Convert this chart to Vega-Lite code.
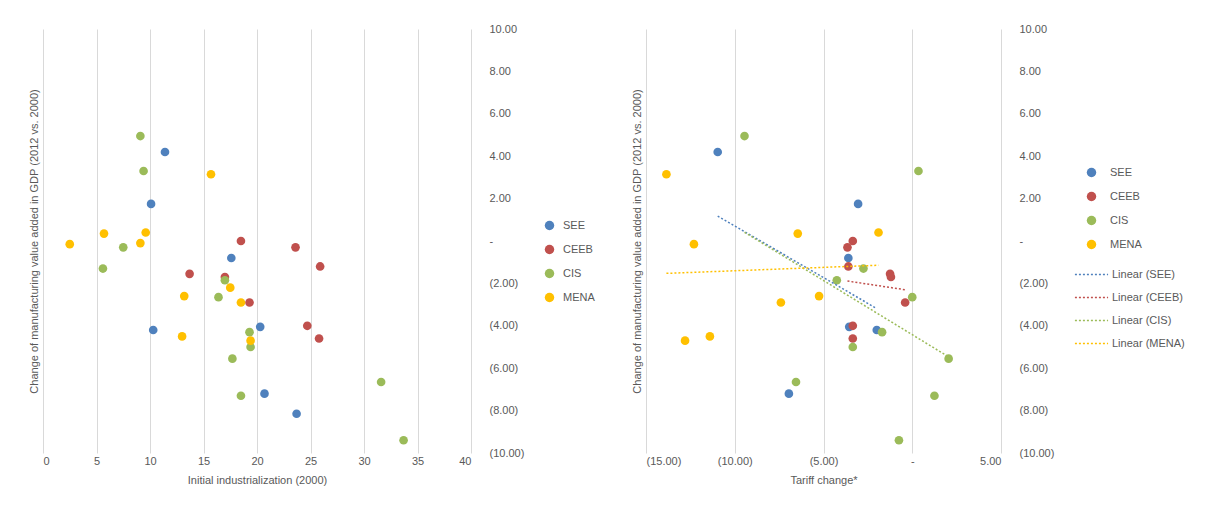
{
  "$schema": "https://vega.github.io/schema/vega-lite/v6.json",
  "padding": {"left": 28, "top": 23, "right": 5, "bottom": 5},
  "spacing": 36,
  "resolve": {"scale": {"color": "independent", "stroke": "independent"}, "legend": {"color": "independent", "stroke": "independent"}},
  "config": {
    "view": {"stroke": null},
    "font": "Liberation Sans",
    "axis": {"labelFont": "Liberation Sans", "titleFont": "Liberation Sans", "labelFontSize": 11, "titleFontSize": 11, "labelColor": "#595959", "titleColor": "#595959", "titleFontWeight": "normal", "domain": false, "ticks": false, "gridColor": "#d9d9d9"},
    "legend": {"labelFont": "Liberation Sans", "labelFontSize": 11, "labelColor": "#595959", "title": null, "rowPadding": 12, "padding": 0}
  },
  "datasets": {
    "left": [
      {"group": "SEE", "x": 11.4, "y": 4.2}, {"group": "SEE", "x": 10.1, "y": 1.75}, {"group": "SEE", "x": 17.6, "y": -0.8},
      {"group": "SEE", "x": 10.3, "y": -4.2}, {"group": "SEE", "x": 20.3, "y": -4.05}, {"group": "SEE", "x": 20.7, "y": -7.2},
      {"group": "SEE", "x": 23.7, "y": -8.15},
      {"group": "CEEB", "x": 18.5, "y": 0}, {"group": "CEEB", "x": 23.6, "y": -0.3}, {"group": "CEEB", "x": 25.9, "y": -1.2},
      {"group": "CEEB", "x": 13.7, "y": -1.55}, {"group": "CEEB", "x": 17.0, "y": -1.7}, {"group": "CEEB", "x": 19.3, "y": -2.9},
      {"group": "CEEB", "x": 24.7, "y": -4.0}, {"group": "CEEB", "x": 25.8, "y": -4.6},
      {"group": "CIS", "x": 9.1, "y": 4.95}, {"group": "CIS", "x": 9.4, "y": 3.3}, {"group": "CIS", "x": 7.5, "y": -0.3},
      {"group": "CIS", "x": 5.6, "y": -1.3}, {"group": "CIS", "x": 16.4, "y": -2.65}, {"group": "CIS", "x": 17.0, "y": -1.85},
      {"group": "CIS", "x": 19.3, "y": -4.3}, {"group": "CIS", "x": 19.4, "y": -5.0}, {"group": "CIS", "x": 17.7, "y": -5.55},
      {"group": "CIS", "x": 18.5, "y": -7.3}, {"group": "CIS", "x": 31.6, "y": -6.65}, {"group": "CIS", "x": 33.7, "y": -9.4},
      {"group": "MENA", "x": 2.5, "y": -0.15}, {"group": "MENA", "x": 5.7, "y": 0.35}, {"group": "MENA", "x": 9.6, "y": 0.4},
      {"group": "MENA", "x": 9.1, "y": -0.1}, {"group": "MENA", "x": 15.7, "y": 3.15}, {"group": "MENA", "x": 13.2, "y": -2.6},
      {"group": "MENA", "x": 17.5, "y": -2.2}, {"group": "MENA", "x": 18.5, "y": -2.9}, {"group": "MENA", "x": 19.4, "y": -4.7},
      {"group": "MENA", "x": 13.0, "y": -4.5}
    ],
    "right": [
      {"group": "SEE", "x": -10.96, "y": 4.2}, {"group": "SEE", "x": -3.05, "y": 1.75}, {"group": "SEE", "x": -3.6, "y": -0.8},
      {"group": "SEE", "x": -3.55, "y": -4.05}, {"group": "SEE", "x": -2.0, "y": -4.2}, {"group": "SEE", "x": -6.95, "y": -7.2},
      {"group": "CEEB", "x": -3.35, "y": 0}, {"group": "CEEB", "x": -3.65, "y": -0.3}, {"group": "CEEB", "x": -3.6, "y": -1.2},
      {"group": "CEEB", "x": -1.25, "y": -1.55}, {"group": "CEEB", "x": -1.2, "y": -1.7}, {"group": "CEEB", "x": -0.4, "y": -2.9},
      {"group": "CEEB", "x": -3.35, "y": -4.0}, {"group": "CEEB", "x": -3.35, "y": -4.6},
      {"group": "CIS", "x": -9.45, "y": 4.95}, {"group": "CIS", "x": 0.35, "y": 3.3}, {"group": "CIS", "x": -2.75, "y": -1.3},
      {"group": "CIS", "x": -4.25, "y": -1.85}, {"group": "CIS", "x": 0.0, "y": -2.65}, {"group": "CIS", "x": -1.7, "y": -4.3},
      {"group": "CIS", "x": -3.35, "y": -5.0}, {"group": "CIS", "x": 2.05, "y": -5.55}, {"group": "CIS", "x": 1.25, "y": -7.3},
      {"group": "CIS", "x": -6.55, "y": -6.65}, {"group": "CIS", "x": -0.75, "y": -9.4},
      {"group": "MENA", "x": -13.85, "y": 3.15}, {"group": "MENA", "x": -12.3, "y": -0.15}, {"group": "MENA", "x": -6.45, "y": 0.35},
      {"group": "MENA", "x": -1.9, "y": 0.4}, {"group": "MENA", "x": -7.4, "y": -2.9}, {"group": "MENA", "x": -5.25, "y": -2.6},
      {"group": "MENA", "x": -12.8, "y": -4.7}, {"group": "MENA", "x": -11.4, "y": -4.5}
    ]
  },
  "hconcat": [
    {
      "width": 428,
      "height": 424,
      "data": {"name": "left"},
      "layer": [
        {
          "mark": {"type": "point", "filled": true, "size": 75, "opacity": 1},
          "encoding": {
            "x": {"field": "x", "type": "quantitative", "scale": {"domain": [0, 40], "nice": false}, "axis": {"values": [0,5,10,15,20,25,30,35,40], "title": "Initial industrialization (2000)", "titlePadding": 8}},
            "y": {"field": "y", "type": "quantitative", "scale": {"domain": [-10, 10], "nice": false}, "axis": {"orient": "left", "labels": false, "grid": false, "title": "Change of manufacturing value added in GDP (2012 vs. 2000)", "titlePadding": 4}},
            "color": {"field": "group", "type": "nominal", "scale": {"domain": ["SEE", "CEEB", "CIS", "MENA"], "range": ["#4F81BD", "#C0504D", "#9BBB59", "#FFC000"]}, "legend": {"symbolType": "circle", "symbolSize": 90, "labelOffset": 8, "orient": "none", "legendX": 501, "legendY": 191}}
          }
        },
        {
          "mark": {"type": "point", "size": 0, "opacity": 0},
          "encoding": {
            "x": {"field": "x", "type": "quantitative"},
            "y": {"field": "y", "type": "quantitative", "axis": {"orient": "right", "grid": false, "title": null, "labelPadding": 18, "values": [-10,-8,-6,-4,-2,0,2,4,6,8,10], "labelExpr": "datum.value == 0 ? '-' : datum.value < 0 ? '(' + format(-datum.value, '.2f') + ')' : format(datum.value, '.2f')"}}
          }
        }
      ],
      "resolve": {"axis": {"y": "independent"}}
    },
    {
      "width": 355,
      "height": 424,
      "data": {"name": "right"},
      "layer": [
        {
          "mark": {"type": "point", "filled": true, "size": 75, "opacity": 1},
          "encoding": {
            "x": {"field": "x", "type": "quantitative", "scale": {"domain": [-15, 5], "nice": false}, "axis": {"values": [-15,-10,-5,0,5], "title": "Tariff change*", "titlePadding": 8, "labelExpr": "datum.value == 0 ? '-' : datum.value < 0 ? '(' + format(-datum.value, '.2f') + ')' : format(datum.value, '.2f')"}},
            "y": {"field": "y", "type": "quantitative", "scale": {"domain": [-10, 10], "nice": false}, "axis": {"orient": "left", "labels": false, "grid": false, "title": "Change of manufacturing value added in GDP (2012 vs. 2000)", "titlePadding": 4}},
            "color": {"field": "group", "type": "nominal", "scale": {"domain": ["SEE", "CEEB", "CIS", "MENA"], "range": ["#4F81BD", "#C0504D", "#9BBB59", "#FFC000"]}, "legend": {"symbolType": "circle", "symbolSize": 90, "labelOffset": 13, "orient": "none", "legendX": 440, "legendY": 138}}
          }
        },
        {
          "transform": [
            {"regression": "y", "on": "x", "groupby": ["group"]},
            {"calculate": "'Linear (' + datum.group + ')'", "as": "lin"}
          ],
          "mark": {"type": "line", "strokeDash": [2, 2], "strokeWidth": 1.5},
          "encoding": {
            "x": {"field": "x", "type": "quantitative"},
            "y": {"field": "y", "type": "quantitative", "axis": {"orient": "right", "grid": false, "title": null, "labelPadding": 18, "values": [-10,-8,-6,-4,-2,0,2,4,6,8,10], "labelExpr": "datum.value == 0 ? '-' : datum.value < 0 ? '(' + format(-datum.value, '.2f') + ')' : format(datum.value, '.2f')"}},
            "stroke": {"field": "lin", "type": "nominal", "scale": {"domain": ["Linear (SEE)", "Linear (CEEB)", "Linear (CIS)", "Linear (MENA)"], "range": ["#4F81BD", "#C0504D", "#9BBB59", "#FFC000"]}, "legend": {"symbolType": "stroke", "symbolDash": [2, 2], "symbolStrokeWidth": 1.5, "symbolSize": 1100, "rowPadding": -6, "labelOffset": 3, "orient": "none", "legendX": 428, "legendY": 228}}
          }
        }
      ],
      "resolve": {"axis": {"y": "independent"}}
    }
  ]
}
